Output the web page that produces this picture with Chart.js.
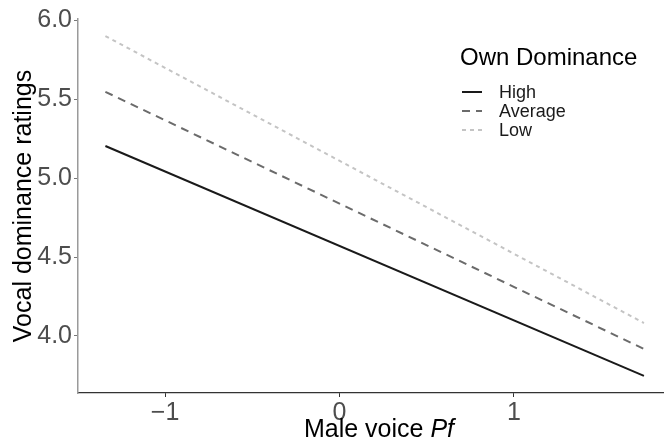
<!DOCTYPE html>
<html>
<head>
<meta charset="utf-8">
<script src="https://cdn.jsdelivr.net/npm/chart.js@4/dist/chart.umd.min.js"></script>
<style>
  body { margin: 0; background: #fff; }
  canvas { display: block; }
</style>
</head>
<body>
<canvas id="c" width="664" height="448"></canvas>
<script>
// values
const pfValues = [-1.342, 1.745];
const highRatings = [5.203, 3.747];
const averageRatings = [5.546, 3.918];
const lowRatings = [5.899, 4.082];
const groups = ['High', 'Average', 'Low'];

const xTicks = [-1, 0, 1];
const xTickLabels = ['\u22121', '0', '1'];
const yTicks = [4.0, 4.5, 5.0, 5.5, 6.0];
const yTickLabels = ['4.0', '4.5', '5.0', '5.5', '6.0'];

const font = "'Liberation Sans', Arial, Helvetica, sans-serif";

function points(ys) {
    return pfValues.map((x, i) => ({ x: x, y: ys[i] }));
}

function series(label, ys, color, dash) {
    return {
        label: label,
        data: points(ys),
        borderColor: color,
        backgroundColor: color,
        borderWidth: 2,
        borderDash: dash,
        pointRadius: 0,
        fill: false,
        tension: 0,
    };
}

// ggplot-like legend placed inside the panel
const insideLegend = {
    id: 'insideLegend',
    afterDraw(chart) {
        const ctx = chart.ctx;
        ctx.save();
        ctx.fillStyle = '#000';
        ctx.textBaseline = 'middle';
        ctx.textAlign = 'left';
        ctx.font = `24px ${font}`;
        ctx.fillText('Own Dominance', 460, 58);
        ctx.font = `18px ${font}`;
        chart.data.datasets.forEach((ds, i) => {
            const y = 92 + i * 19;
            ctx.beginPath();
            ctx.strokeStyle = ds.borderColor;
            ctx.lineWidth = ds.borderWidth;
            ctx.setLineDash(ds.borderDash || []);
            ctx.moveTo(462, y);
            ctx.lineTo(482, y);
            ctx.stroke();
            ctx.setLineDash([]);
            ctx.fillStyle = '#1a1a1a';
            ctx.fillText(ds.label, 499, y + 1);
        });
        ctx.restore();
    }
};

// x title with italic "Pf" (chart.js titles take one font only)
const xTitle = {
    id: 'xTitle',
    afterDraw(chart) {
        const ctx = chart.ctx;
        const a = chart.chartArea;
        const plain = 'Male voice ';
        const ital = 'Pf';
        ctx.save();
        ctx.fillStyle = '#000';
        ctx.textBaseline = 'alphabetic';
        ctx.textAlign = 'left';
        ctx.font = `25px ${font}`;
        const w1 = ctx.measureText(plain).width;
        ctx.font = `italic 25px ${font}`;
        const w2 = ctx.measureText(ital).width;
        const x0 = (a.left + a.right) / 2 + 8 - (w1 + w2) / 2;
        ctx.font = `25px ${font}`;
        ctx.fillText(plain, x0, 437);
        ctx.font = `italic 25px ${font}`;
        ctx.fillText(ital, x0 + w1, 437);
        ctx.restore();
    }
};

new Chart(document.getElementById('c'), {
    type: 'line',
    data: {
        datasets: [
            series(groups[0], highRatings, '#1a1a1a', []),
            series(groups[1], averageRatings, '#6b6b6b', [8, 6]),
            series(groups[2], lowRatings, '#c4c4c4', [4, 4]),
        ]
    },
    options: {
        responsive: false,
        animation: false,
        events: [],
        layout: { padding: { top: 19, right: 0, left: 0, bottom: 0 } },
        plugins: {
            legend: { display: false },
            tooltip: { enabled: false },
        },
        scales: {
            x: {
                type: 'linear',
                min: -1.499,
                max: 1.86,
                afterBuildTicks: s => { s.ticks = xTicks.map(v => ({ value: v })); },
                afterFit: s => { s.height = 55; },
                border: { display: true, color: '#333', width: 1.2 },
                grid: { display: true, drawOnChartArea: false, drawTicks: true, tickLength: 4, color: '#333' },
                ticks: {
                    autoSkip: false,
                    maxRotation: 0,
                    padding: 1,
                    color: '#4d4d4d',
                    font: { family: font, size: 25 },
                    callback: v => xTickLabels[xTicks.indexOf(v)],
                },
                title: { display: false },
            },
            y: {
                type: 'linear',
                min: 3.639,
                max: 6.007,
                afterBuildTicks: s => { s.ticks = yTicks.map(v => ({ value: v })); },
                afterFit: s => { s.width = 78; },
                border: { display: true, color: '#9a9a9a', width: 1.5 },
                grid: { display: true, drawOnChartArea: false, drawTicks: true, tickLength: 4, color: '#777' },
                ticks: {
                    autoSkip: false,
                    padding: 2,
                    color: '#4d4d4d',
                    font: { family: font, size: 25 },
                    callback: v => yTickLabels[yTicks.indexOf(v)],
                },
                title: {
                    display: true,
                    text: 'Vocal dominance ratings',
                    color: '#000',
                    font: { family: font, size: 25 },
                    padding: { top: 9, bottom: 0 },
                },
            },
        },
    },
    plugins: [insideLegend, xTitle],
});
</script>
</body>
</html>
